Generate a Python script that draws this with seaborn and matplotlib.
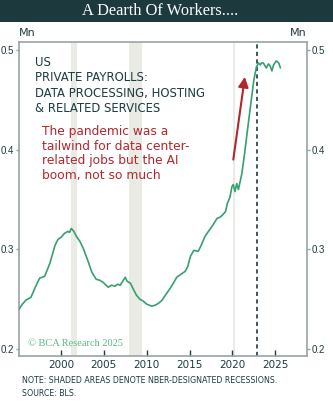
import matplotlib
matplotlib.use("Agg")
import matplotlib.pyplot as plt
import seaborn as sns
import pandas as pd

# ---- data ----
years = [1995.1, 1995.5, 1995.9, 1996.5, 1997.0, 1997.5, 1998.1, 1998.7, 1999.3, 1999.65,
         2000.0, 2000.4, 2000.8, 2001.0, 2001.2, 2001.5, 2001.8, 2002.2, 2002.6, 2003.2,
         2003.6, 2004.1, 2004.5, 2004.9, 2005.5, 2005.9, 2006.3, 2006.6, 2006.9, 2007.2,
         2007.5, 2007.7, 2008.1, 2008.5, 2008.8, 2009.2, 2009.6, 2010.0, 2010.6, 2011.0,
         2011.4, 2011.8, 2012.1, 2012.5, 2012.9, 2013.5, 2014.0, 2014.5, 2014.8, 2015.1,
         2015.5, 2016.0, 2016.3, 2016.6, 2016.8, 2017.2, 2017.7, 2018.2, 2018.5, 2018.8,
         2019.2, 2019.4, 2019.7, 2019.95, 2020.1, 2020.3, 2020.5, 2020.7, 2020.9, 2021.1,
         2021.4, 2021.7, 2022.1, 2022.5, 2022.8, 2023.05, 2023.25, 2023.4, 2023.6, 2023.95,
         2024.2, 2024.4, 2024.6, 2024.8, 2025.1, 2025.4, 2025.6]
payrolls = [0.240, 0.245, 0.249, 0.252, 0.262, 0.271, 0.273, 0.286, 0.304, 0.310,
            0.312, 0.316, 0.318, 0.317, 0.321, 0.318, 0.313, 0.308, 0.301, 0.287,
            0.277, 0.270, 0.269, 0.267, 0.262, 0.264, 0.263, 0.265, 0.264, 0.268,
            0.272, 0.268, 0.266, 0.259, 0.254, 0.250, 0.248, 0.245, 0.243, 0.244,
            0.246, 0.249, 0.253, 0.258, 0.263, 0.272, 0.275, 0.278, 0.283, 0.293,
            0.299, 0.298, 0.303, 0.309, 0.313, 0.318, 0.324, 0.331, 0.332, 0.334,
            0.338, 0.346, 0.352, 0.363, 0.365, 0.358, 0.366, 0.360, 0.368, 0.376,
            0.395, 0.416, 0.443, 0.470, 0.483, 0.487, 0.485, 0.487, 0.487, 0.482,
            0.486, 0.484, 0.479, 0.485, 0.489, 0.487, 0.482]
recessions = [(2001.2, 2001.9), (2007.9, 2009.5), (2020.1, 2020.3)]
ai_boom_start = 2022.9
arrow_start = (2020.1, 0.390)
arrow_end = (2021.45, 0.473)
yticks = [0.2, 0.3, 0.4, 0.5]
xticks = [2000, 2005, 2010, 2015, 2020, 2025]

df = pd.DataFrame({"year": years, "value": payrolls})

DARK = "#1d3b40"
GREEN = "#36a06e"
RED = "#b3262b"
SPINE = "#9aa3a5"

sns.set_style("white")
plt.rcParams["font.family"] = ["DejaVu Sans"]

fig = plt.figure(figsize=(3.33, 4.05), dpi=100)
ax = fig.add_axes([19 / 333, 1 - 356 / 405, (307 - 19) / 333, (356 - 42) / 405])

for a, b in recessions:
    ax.axvspan(a, b, color="#ebebe6", lw=0, zorder=0)

sns.lineplot(data=df, x="year", y="value", ax=ax, color=GREEN, lw=1.2, sort=False, zorder=3)
ax.axvline(ai_boom_start, color=DARK, lw=1.2, ls=(0, (2.5, 2)), zorder=2)

ax.annotate("", xy=arrow_end, xytext=arrow_start,
            arrowprops=dict(arrowstyle="-|>,head_length=0.6,head_width=0.3",
                            color=RED, lw=1.5, shrinkA=0, shrinkB=0), zorder=4)

ax.set_xlim(1995.1, 2028.7)
ax.set_ylim(0.193, 0.508)
ax.set_xticks(xticks)
ax.set_yticks(yticks)
ax.set_yticklabels([f"{t:.1f}" for t in yticks])
ax.set_xlabel("")
ax.set_ylabel("")
for s in ax.spines.values():
    s.set_color(SPINE)
    s.set_linewidth(1.2)
ax.tick_params(axis="y", which="both", left=True, right=True, labelleft=True, labelright=True,
               direction="out", length=2.5, width=1, color=SPINE, labelsize=7,
               labelcolor=DARK, pad=0.8)
ax.tick_params(axis="x", bottom=True, direction="in", length=4, width=1, color=DARK,
               labelsize=7.5, labelcolor=DARK, pad=3)
for lab in ax.get_yticklabels():
    lab.set_family("Liberation Sans")

ax.text(0.055, 0.955, "US\nPRIVATE PAYROLLS:\nDATA PROCESSING, HOSTING\n& RELATED SERVICES",
        transform=ax.transAxes, ha="left", va="top", fontsize=8.4, color=DARK,
        linespacing=1.22)
ax.text(0.08, 0.735, "The pandemic was a\ntailwind for data center-\nrelated jobs but the AI\nboom, not so much",
        transform=ax.transAxes, ha="left", va="top", fontsize=8.8, color=RED,
        linespacing=1.15)
ax.text(0.03, 0.025, "\u00a9 BCA Research 2025", transform=ax.transAxes, ha="left",
        va="bottom", fontsize=7.5, color="#5ab88a", family="Liberation Serif")

fig.text(27 / 333, 1 - 33 / 405, "Mn", ha="center", va="center", fontsize=8, color=DARK)
fig.text(298 / 333, 1 - 33 / 405, "Mn", ha="center", va="center", fontsize=8, color=DARK)

# title banner
tax = fig.add_axes([0, 1 - 22 / 405, 1, 22 / 405])
tax.set_facecolor("#1c3a3e")
tax.set_xticks([])
tax.set_yticks([])
for s in tax.spines.values():
    s.set_visible(False)
tax.text(0.482, 0.48, "A Dearth Of Workers....", ha="center", va="center",
         fontsize=11.8, color="white", family="Liberation Serif", transform=tax.transAxes)

fig.text(22 / 333, 1 - 387 / 405, "NOTE: SHADED AREAS DENOTE NBER-DESIGNATED RECESSIONS.\nSOURCE: BLS.",
         ha="left", va="center", fontsize=5.7, color=DARK, linespacing=1.45)

fig.savefig("out.png", dpi=100, facecolor="white")
